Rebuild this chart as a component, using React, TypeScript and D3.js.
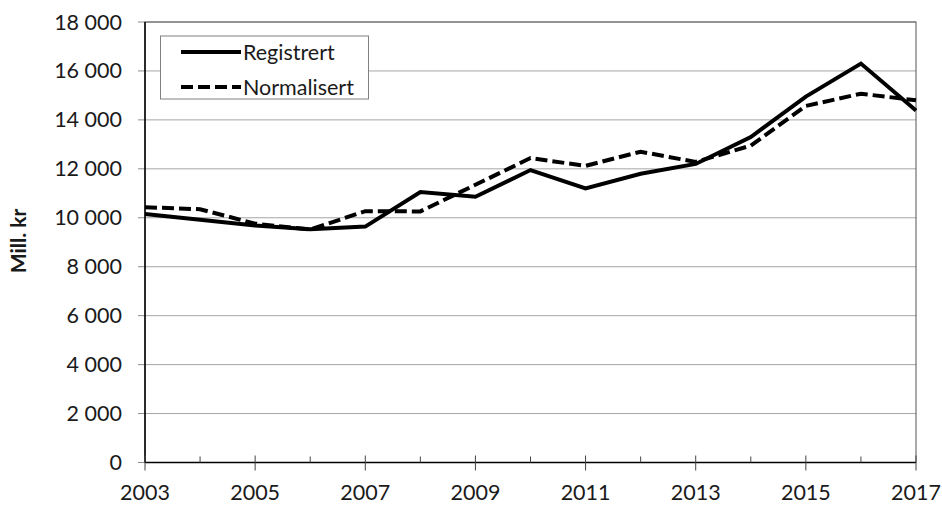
import React from "react";
import * as d3 from "d3";

const years = [2003, 2004, 2005, 2006, 2007, 2008, 2009, 2010, 2011, 2012, 2013, 2014, 2015, 2016, 2017];
const registrert = [10150, 9920, 9680, 9530, 9640, 11050, 10860, 11950, 11200, 11800, 12200, 13300, 14950, 16300, 14380];
const normalisert = [10430, 10350, 9760, 9520, 10270, 10260, 11350, 12440, 12120, 12700, 12280, 12950, 14570, 15070, 14800];
const yTicks = [0, 2000, 4000, 6000, 8000, 10000, 12000, 14000, 16000, 18000];
const xLabels = [2003, 2005, 2007, 2009, 2011, 2013, 2015, 2017];
const seriesNames = ["Registrert", "Normalisert"];
const yTitle = "Mill. kr";

const W = 942, H = 505;
const L = 145, R = 916, T = 22, B = 462.5;
const font = "Lato, 'Open Sans', sans-serif";
const FS = 21.5;

export default function App() {
  const x = d3.scaleLinear().domain([2003, 2017]).range([L, R]);
  const y = d3.scaleLinear().domain([0, 18000]).range([B, T]);
  const fmt = (v: number) => d3.format(",")(v).replace(/,/g, " ");
  const line = d3.line<number>().x((_, i) => x(years[i])).y((d) => y(d));

  return (
    <svg width={W} height={H} style={{ position: "absolute", left: 0, top: 0 }} fontFamily={font}>
      <rect x={0} y={0} width={W} height={H} fill="#fff" />
      {yTicks.map((t) => (
        <g key={t}>
          {t > 0 && <line x1={L} x2={R} y1={y(t)} y2={y(t)} stroke="#a6a6a6" strokeWidth={1} />}
          <line x1={L - 7} x2={L} y1={y(t)} y2={y(t)} stroke="#8c8c8c" strokeWidth={1} />
          <text x={122} y={y(t)} dy="0.35em" textAnchor="end" fontSize={FS} fill="#1a1a1a">{fmt(t)}</text>
        </g>
      ))}
      <rect x={L} y={T} width={R - L} height={B - T} fill="none" stroke="#555" strokeWidth={1} />
      <line x1={L} x2={L} y1={T} y2={B} stroke="#000" strokeWidth={1.5} />
      <line x1={L} x2={R} y1={B} y2={B} stroke="#000" strokeWidth={1.5} />
      {years.map((yr) => {
        const major = xLabels.includes(yr);
        return (
          <line key={yr} x1={x(yr)} x2={x(yr)} y1={major ? B - 7 : B - 6} y2={major ? B + 8 : B} stroke="#444" strokeWidth={1} />
        );
      })}
      {xLabels.map((yr) => (
        <text key={yr} x={x(yr)} y={500} textAnchor="middle" fontSize={FS} fill="#1a1a1a">{yr}</text>
      ))}
      <text transform={`translate(19,241) rotate(-90)`} dy="0.35em" textAnchor="middle" fontSize={21} fontWeight="bold" fill="#1a1a1a">{yTitle}</text>
      <path d={line(normalisert) || ""} fill="none" stroke="#000" strokeWidth={4} strokeDasharray="12,5" />
      <path d={line(registrert) || ""} fill="none" stroke="#000" strokeWidth={4} strokeLinejoin="miter" />
      <rect x={160.5} y={36} width={208} height={63} fill="#fff" stroke="#808080" strokeWidth={1} />
      <line x1={181} x2={241} y1={52} y2={52} stroke="#000" strokeWidth={4} />
      <line x1={181} x2={241} y1={87} y2={87} stroke="#000" strokeWidth={4} strokeDasharray="12,5" />
      <text x={243} y={52} dy="0.35em" fontSize={FS} fill="#1a1a1a">{seriesNames[0]}</text>
      <text x={243} y={87} dy="0.35em" fontSize={FS} fill="#1a1a1a">{seriesNames[1]}</text>
    </svg>
  );
}
